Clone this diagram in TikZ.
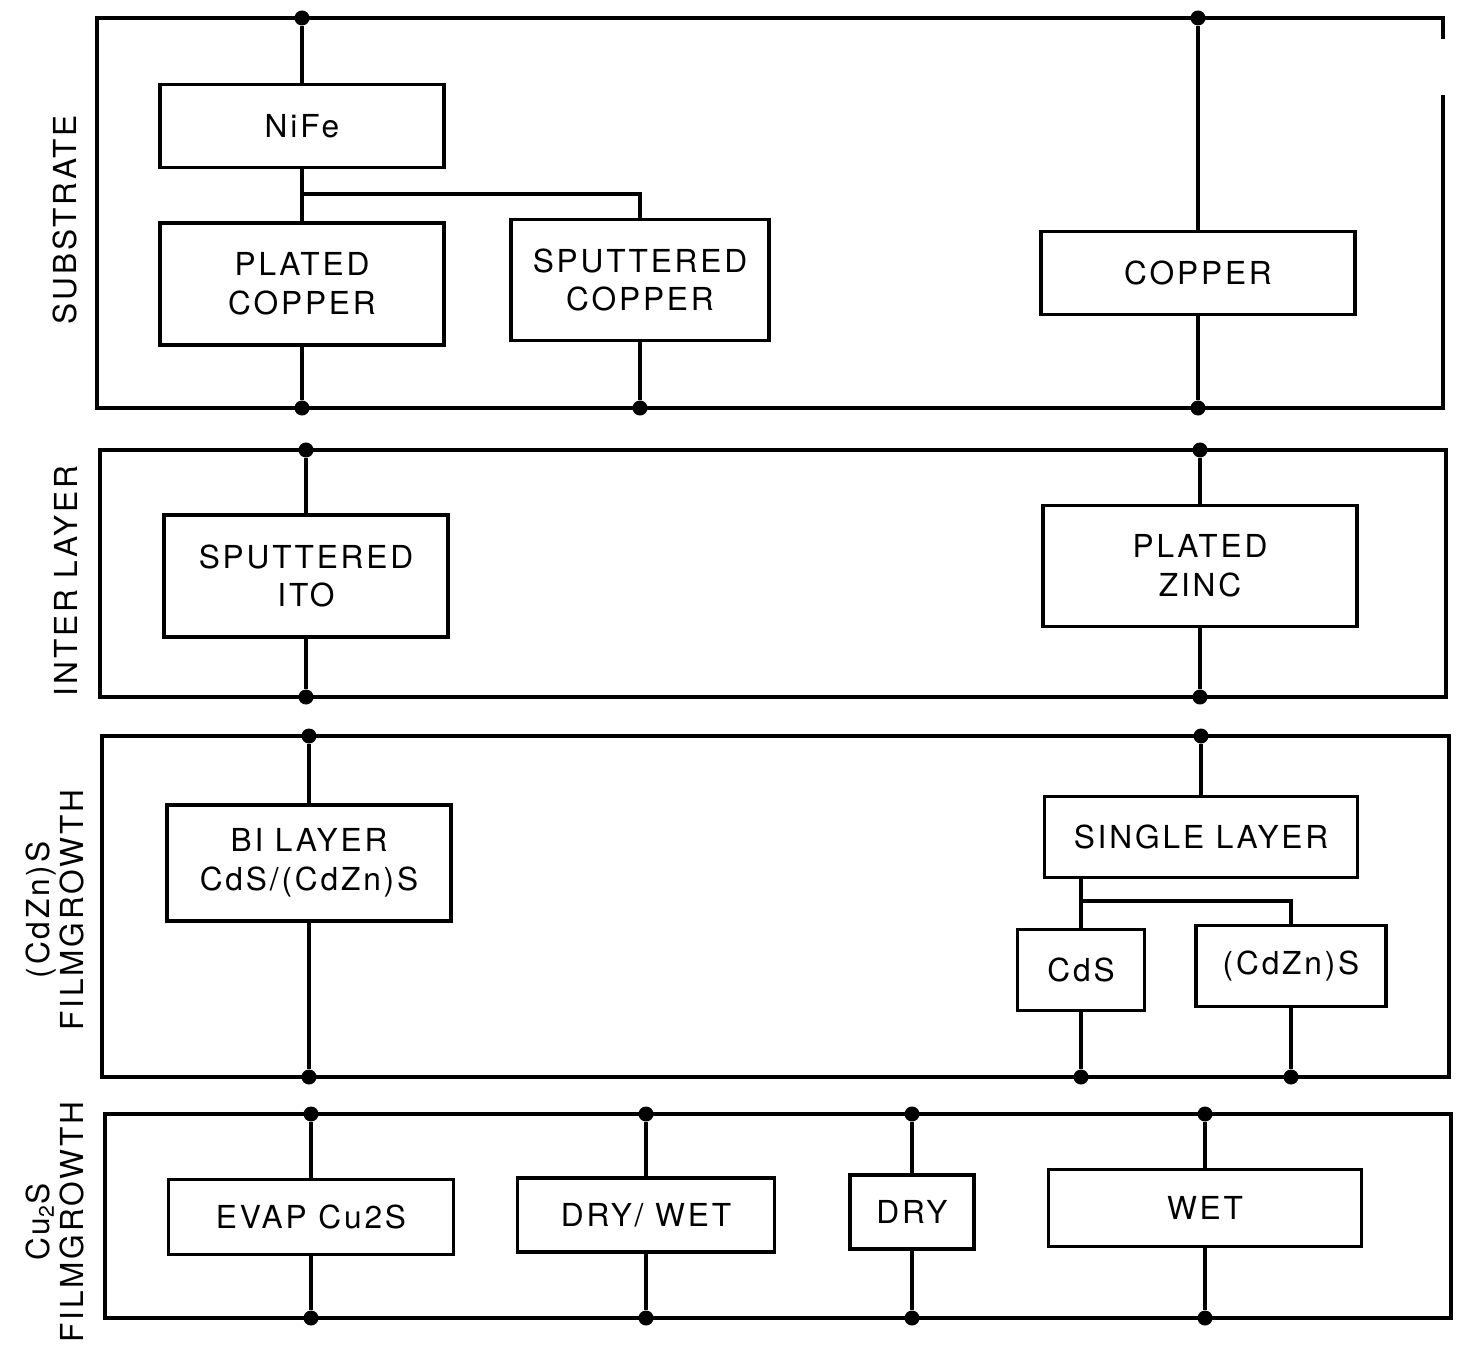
\documentclass[tikz,border=0pt]{standalone}
\usepackage{fontspec}
\setmainfont{TeX Gyre Heros}[LetterSpace=9]
\begin{document}
\begin{tikzpicture}[x=0.01cm, y=-0.01cm,
  box/.style={draw, line width=1pt, fill=white, align=center, inner sep=0pt, font=\fontsize{9}{11}\selectfont},
  dot/.style={circle, fill, inner sep=0pt, minimum size=1.5mm},
  wire/.style={line width=1pt},
  side/.style={rotate=90, align=center, font=\fontsize{9}{9.5}\selectfont}]
  \useasboundingbox (0,0) rectangle (1458,1346);
  % substrate
  \draw[wire] (1443,95) |- (97,408) |- (1443,18) -- (1443,39);
  \node[side] (lsub) at (65,220) {SUBSTRATE};
  \node[box, minimum width=2.84cm, minimum height=0.83cm] (nife) at (302,126) {NiFe};
  \node[box, minimum width=2.84cm, minimum height=1.22cm] (platedcu) at (302,284) {PLATED\\COPPER};
  \node[box, minimum width=2.58cm, minimum height=1.21cm] (sputcu) at (640,280) {SPUTTERED\\COPPER};
  \node[box, minimum width=3.14cm, minimum height=0.83cm] (copper) at (1198,273) {COPPER};
  \node[dot] (sa) at (302,18) {};
  \node[dot] (sb) at (302,408) {};
  \node[dot] (sc) at (640,408) {};
  \node[dot] (sd) at (1198,18) {};
  \node[dot] (se) at (1198,408) {};
  \coordinate (jsub) at (302,194);
  \draw[wire] (sa) -- (nife) -- (platedcu) -- (sb);
  \draw[wire] (jsub) -| (sputcu);
  \draw[wire] (sputcu) -- (sc);
  \draw[wire] (sd) -- (copper) -- (se);
  % inter layer
  \draw[wire] (100,450) rectangle (1446,697);
  \node[side] (lint) at (66,581) {INTER LAYER};
  \node[box, minimum width=2.84cm, minimum height=1.22cm] (ito) at (306,576) {SPUTTERED\\ITO};
  \node[box, minimum width=3.14cm, minimum height=1.21cm] (zinc) at (1200,566) {PLATED\\ZINC};
  \node[dot] (ia) at (306,450) {};
  \node[dot] (ib) at (306,697) {};
  \node[dot] (ic) at (1200,450) {};
  \node[dot] (id) at (1200,697) {};
  \draw[wire] (ia) -- (ito) -- (ib);
  \draw[wire] (ic) -- (zinc) -- (id);
  % (CdZn)S film growth
  \draw[wire] (102,736) rectangle (1449,1077);
  \node[side] (lcdzn) at (55,910) {(CdZn)S\\FILMGROWTH};
  \node[box, minimum width=2.84cm, minimum height=1.16cm] (bilayer) at (309,863) {BI LAYER\\CdS/(CdZn)S};
  \node[box, minimum width=3.13cm, minimum height=0.81cm] (single) at (1201,837) {SINGLE LAYER};
  \node[box, minimum width=1.27cm, minimum height=0.81cm] (cds) at (1081,970) {CdS};
  \node[box, minimum width=1.90cm, minimum height=0.81cm] (cdzns) at (1291,966) {(CdZn)S};
  \node[dot] (ca) at (309,736) {};
  \node[dot] (cb) at (309,1077) {};
  \node[dot] (cc) at (1201,736) {};
  \node[dot] (cd) at (1081,1077) {};
  \node[dot] (ce) at (1291,1077) {};
  \coordinate (jcd) at (1081,901);
  \draw[wire] (ca) -- (bilayer) -- (cb);
  \draw[wire] (cc) -- (single);
  \draw[wire] (single.south -| cds) -- (cds) -- (cd);
  \draw[wire] (jcd) -| (cdzns);
  \draw[wire] (cdzns) -- (ce);
  % Cu2S film growth
  \draw[wire] (105,1114) rectangle (1451,1318);
  \node[side] (lcu) at (55,1222) {Cu\textsubscript{2}S\\FILMGROWTH};
  \node[box, minimum width=2.85cm, minimum height=0.75cm] (evap) at (311,1217) {EVAP Cu2S};
  \node[box, minimum width=2.57cm, minimum height=0.74cm] (drywet) at (646,1215) {DRY/ WET};
  \node[box, minimum width=1.24cm, minimum height=0.74cm] (dry) at (912,1212) {DRY};
  \node[box, minimum width=3.13cm, minimum height=0.77cm] (wet) at (1205,1208) {WET};
  \foreach \n/\x in {evap/311, drywet/646, dry/912, wet/1205} {
    \node[dot] (\n-t) at (\x,1114) {};
    \node[dot] (\n-b) at (\x,1318) {};
    \draw[wire] (\n-t) -- (\n) -- (\n-b);
  }
\end{tikzpicture}
\end{document}
